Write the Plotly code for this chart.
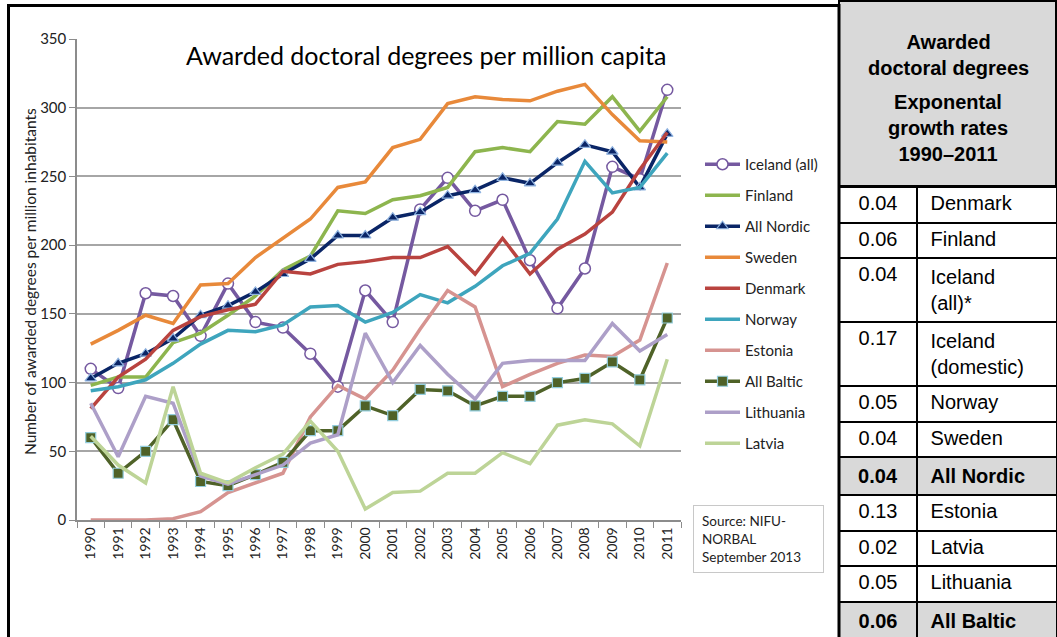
import plotly.graph_objects as go

W, H = 1057, 637

years = ["1990", "1991", "1992", "1993", "1994", "1995", "1996", "1997", "1998", "1999", "2000",
         "2001", "2002", "2003", "2004", "2005", "2006", "2007", "2008", "2009", "2010", "2011"]

iceland_all = [110, 96, 165, 163, 134, 172, 144, 140, 121, 97, 167, 144, 226, 249, 225, 233, 189, 154, 183, 257, 248, 313]
finland = [98, 104, 104, 129, 136, 149, 163, 182, 192, 225, 223, 233, 236, 242, 268, 271, 268, 290, 288, 308, 283, 308]
all_nordic = [103, 114, 121, 132, 149, 156, 166, 179, 190, 207, 207, 220, 224, 236, 240, 249, 245, 260, 273, 268, 242, 281]
sweden = [128, 138, 149, 143, 171, 172, 191, 205, 219, 242, 246, 271, 277, 303, 308, 306, 305, 312, 317, 295, 276, 275]
denmark = [81, 104, 117, 138, 148, 153, 157, 181, 179, 186, 188, 191, 191, 199, 179, 205, 179, 197, 208, 224, 255, 282]
norway = [94, 97, 102, 114, 128, 138, 137, 142, 155, 156, 144, 151, 164, 158, 170, 185, 194, 219, 261, 238, 242, 267]
estonia = [0, 0, 0, 1, 6, 20, 27, 34, 75, 98, 88, 109, 139, 167, 155, 97, 106, 114, 120, 119, 131, 187]
all_baltic = [60, 34, 50, 73, 28, 25, 33, 42, 65, 65, 83, 76, 95, 94, 83, 90, 90, 100, 103, 115, 102, 147]
lithuania = [85, 46, 90, 85, 32, 26, 33, 40, 56, 62, 136, 100, 127, 106, 88, 114, 116, 116, 116, 143, 123, 135]
latvia = [61, 40, 27, 97, 34, 27, 38, 48, 72, 50, 8, 20, 21, 34, 34, 49, 41, 69, 73, 70, 54, 117]

# growth-rate table
rates = ["0.04", "0.06", "0.04", "0.17", "0.05", "0.04", "<b>0.04</b>", "0.13", "0.02", "0.05", "<b>0.06</b>"]
rate_names = ["Denmark", "Finland", "Iceland<br>(all)*", "Iceland<br>(domestic)", "Norway", "Sweden",
              "<b>All Nordic</b>", "Estonia", "Latvia", "Lithuania", "<b>All Baltic</b>"]
row_fill = ["white"] * 6 + ["#d9d9d9"] + ["white"] * 3 + ["#d9d9d9"]


def xp(p):
    return p / W


def yp(p):
    return 1 - p / H


series = [
    ("Iceland (all)", iceland_all, "#7559a0", dict(symbol="circle", size=11, color="white",
                                                   line=dict(color="#7559a0", width=1.5))),
    ("Finland", finland, "#8db54e", None),
    ("All Nordic", all_nordic, "#0a2566", dict(symbol="triangle-up", size=10, color="#0a2566",
                                              line=dict(color="#8fb3e0", width=1.2))),
    ("Sweden", sweden, "#e8893a", None),
    ("Denmark", denmark, "#b9433f", None),
    ("Norway", norway, "#3ea5bd", None),
    ("Estonia", estonia, "#d69390", None),
    ("All Baltic", all_baltic, "#4f6228", dict(symbol="square", size=10, color="#4f6228",
                                              line=dict(color="#93cddd", width=1.2))),
    ("Lithuania", lithuania, "#ad9fc8", None),
    ("Latvia", latvia, "#bdd497", None),
]

fig = go.Figure()
for name, vals, col, mk in series:
    fig.add_trace(go.Scatter(
        x=years, y=vals, name=name, legendgroup=name,
        mode="lines+markers" if mk else "lines",
        line=dict(color=col, width=3.5),
        marker=mk,
    ))

# table header row takes ~15px even when empty, so the domain starts a bit higher
fig.add_trace(go.Table(
    domain=dict(x=[xp(839), 1], y=[0, yp(171)]),
    columnwidth=[78, 140],
    header=dict(values=None, height=0, line=dict(width=0), fill=dict(color="rgba(0,0,0,0)")),
    cells=dict(
        values=[rates, [" " + n.replace("<br>", "<br> ") for n in rate_names]],
        align=["center", "left"],
        height=35.5,
        font=dict(family="Liberation Sans, Arial", size=20, color="black"),
        fill=dict(color=[row_fill, row_fill]),
        line=dict(color="black", width=2),
    ),
))

fig.update_layout(
    width=W, height=H,
    margin=dict(l=0, r=0, t=0, b=0, autoexpand=False),
    paper_bgcolor="white", plot_bgcolor="white",
    font=dict(family="Lato, Noto Sans, sans-serif", color="#222"),
    showlegend=True,
    legend=dict(x=xp(700), y=yp(148), xanchor="left", yanchor="top", itemwidth=35,
                font=dict(size=15, color="#222"), tracegroupgap=8.5,
                bgcolor="rgba(0,0,0,0)"),
    xaxis=dict(domain=[xp(77), xp(681)], type="category", range=[-0.5, 21.5], automargin=False,
               tickangle=-90, tickson="boundaries", ticks="outside", ticklen=6, tickcolor="#8c8c8c",
               showline=True, linecolor="#8c8c8c", linewidth=1.5, showgrid=False,
               tickfont=dict(size=14, color="#222")),
    yaxis=dict(domain=[yp(520), yp(39)], range=[0, 350], dtick=50, automargin=False,
               ticks="outside", ticklen=6, tickcolor="#8c8c8c",
               showline=True, linecolor="#8c8c8c", linewidth=1.5,
               gridcolor="#a6a6a6", gridwidth=1.5, zeroline=False,
               tickfont=dict(size=15, color="#222")),
)

fig.add_annotation(text="Awarded doctoral degrees per million capita", xref="paper", yref="paper",
                   x=xp(426), y=yp(55), xanchor="center", yanchor="middle", showarrow=False,
                   font=dict(size=25, color="black"))
fig.add_annotation(text="Number of awarded degrees per million inhabitants", xref="paper", yref="paper",
                   x=xp(30), y=yp(282), xanchor="center", yanchor="middle", textangle=-90,
                   showarrow=False, font=dict(size=15.5, color="#222"))
fig.add_annotation(text="Source: NIFU-<br>NORBAL<br>September 2013", xref="paper", yref="paper",
                   x=xp(693), y=yp(505), xanchor="left", yanchor="top", width=113, height=50,
                   align="left", valign="middle", showarrow=False, borderpad=8, borderwidth=1,
                   bordercolor="#c8c8c8", font=dict(size=13.5, color="#222"))

# frame around chart and header of table
fig.add_shape(type="rect", xref="paper", yref="paper", x0=xp(8.5), y0=yp(5.5), x1=xp(839), y1=yp(650),
              line=dict(color="black", width=3))
fig.add_shape(type="rect", xref="paper", yref="paper", x0=xp(839), y0=yp(1), x1=xp(1056), y1=yp(186),
              fillcolor="#d9d9d9", line=dict(color="black", width=2), layer="below")
fig.add_annotation(text="<b>Awarded<br>doctoral degrees</b>", xref="paper", yref="paper",
                   x=xp(948), y=yp(55), xanchor="center", yanchor="middle", showarrow=False,
                   font=dict(family="Liberation Sans, Arial", size=20, color="black"))
fig.add_annotation(text="<b>Exponental<br>growth rates<br>1990–2011</b>", xref="paper", yref="paper",
                   x=xp(948), y=yp(128), xanchor="center", yanchor="middle", showarrow=False,
                   font=dict(family="Liberation Sans, Arial", size=20, color="black"))

fig.write_html("out.html", config={"displayModeBar": False},
               post_script="document.body.style.margin='0';")
